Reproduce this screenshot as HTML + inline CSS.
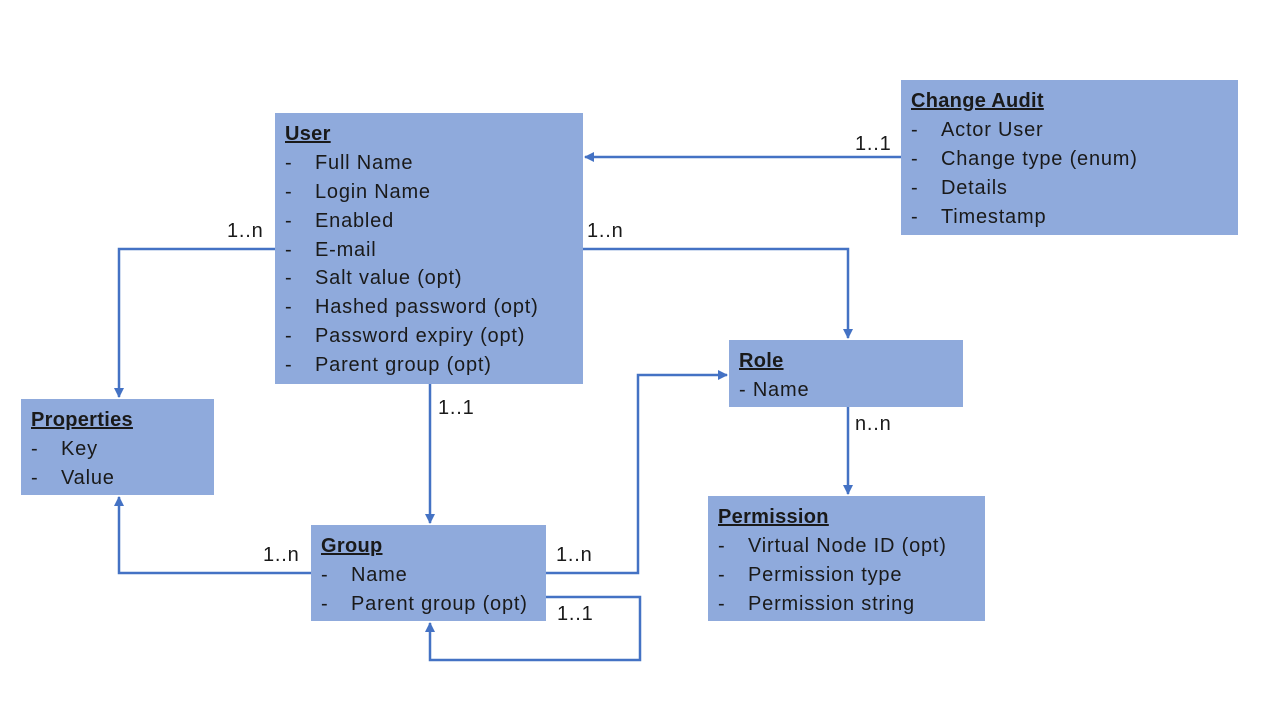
<!DOCTYPE html>
<html><head><meta charset="utf-8"><style>
body{margin:0;background:#fff;}
svg text{font-family:"Liberation Sans",sans-serif;font-size:20px;letter-spacing:0.8px;fill:#1a1a1a;}
.t{font-weight:bold;text-decoration:underline;letter-spacing:0.3px;}
</style></head><body>
<svg width="1280" height="720" viewBox="0 0 1280 720" xmlns="http://www.w3.org/2000/svg">
<defs><marker id="a" markerWidth="10" markerHeight="10" refX="9" refY="5" orient="auto" markerUnits="userSpaceOnUse"><path d="M0,0 L10,5 L0,10 Z" fill="#4472c4"/></marker></defs>
<g fill="#8faadc">
<rect x="275" y="113" width="308" height="271"/>
<rect x="901" y="80" width="337" height="155"/>
<rect x="21" y="399" width="193" height="96"/>
<rect x="311" y="525" width="235" height="96"/>
<rect x="729" y="340" width="234" height="67"/>
<rect x="708" y="496" width="277" height="125"/>
</g>
<g fill="none" stroke="#4472c4" stroke-width="2.5" marker-end="url(#a)">
<path d="M901 157 H585"/>
<path d="M275 249 H119 V397"/>
<path d="M583 249 H848 V338"/>
<path d="M430 384 V523"/>
<path d="M311 573 H119 V497"/>
<path d="M546 573 H638 V375 H727"/>
<path d="M546 597 H640 V660 H430 V623"/>
<path d="M848 407 V494"/>
</g>
<text x="855" y="150">1..1</text>
<text x="227" y="237">1..n</text>
<text x="587" y="237">1..n</text>
<text x="438" y="414">1..1</text>
<text x="263" y="561">1..n</text>
<text x="556" y="561">1..n</text>
<text x="557" y="620">1..1</text>
<text x="855" y="430">n..n</text>

<text x="285" y="140" class="t">User</text>
<g>
<text x="285" y="169">-</text><text x="315" y="169">Full Name</text>
<text x="285" y="198">-</text><text x="315" y="198">Login Name</text>
<text x="285" y="227">-</text><text x="315" y="227">Enabled</text>
<text x="285" y="256">-</text><text x="315" y="256">E-mail</text>
<text x="285" y="284">-</text><text x="315" y="284">Salt value (opt)</text>
<text x="285" y="313">-</text><text x="315" y="313">Hashed password (opt)</text>
<text x="285" y="342">-</text><text x="315" y="342">Password expiry (opt)</text>
<text x="285" y="371">-</text><text x="315" y="371">Parent group (opt)</text>
</g>
<text x="911" y="107" class="t">Change Audit</text>
<text x="911" y="136">-</text><text x="941" y="136">Actor User</text>
<text x="911" y="165">-</text><text x="941" y="165">Change type (enum)</text>
<text x="911" y="194">-</text><text x="941" y="194">Details</text>
<text x="911" y="223">-</text><text x="941" y="223">Timestamp</text>

<text x="31" y="426" class="t">Properties</text>
<text x="31" y="455">-</text><text x="61" y="455">Key</text>
<text x="31" y="484">-</text><text x="61" y="484">Value</text>

<text x="321" y="552" class="t">Group</text>
<text x="321" y="581">-</text><text x="351" y="581">Name</text>
<text x="321" y="610">-</text><text x="351" y="610">Parent group (opt)</text>

<text x="739" y="367" class="t">Role</text>
<text x="739" y="396">- Name</text>

<text x="718" y="523" class="t">Permission</text>
<text x="718" y="552">-</text><text x="748" y="552">Virtual Node ID (opt)</text>
<text x="718" y="581">-</text><text x="748" y="581">Permission type</text>
<text x="718" y="610">-</text><text x="748" y="610">Permission string</text>
</svg>
</body></html>
